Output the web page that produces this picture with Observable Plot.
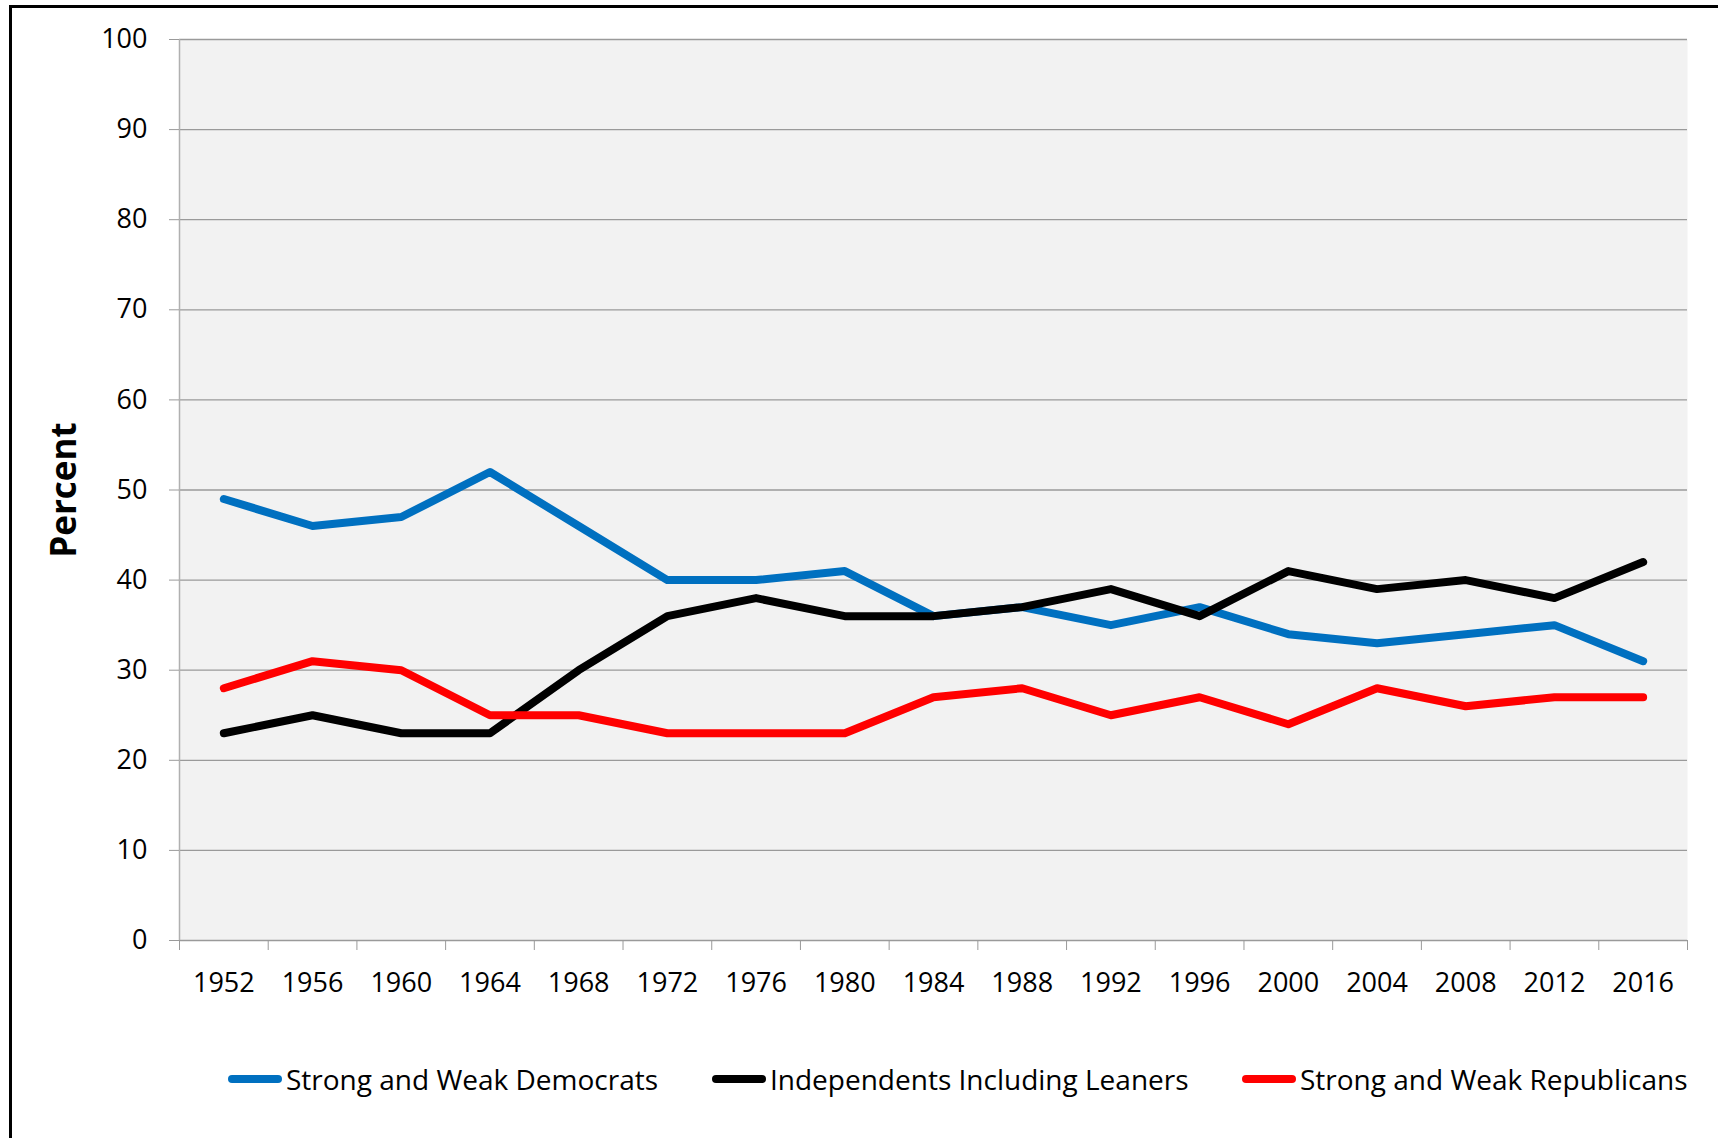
<!DOCTYPE html>
<html><head><meta charset="utf-8">
<script src="https://cdn.jsdelivr.net/npm/d3@7"></script>
<script src="https://cdn.jsdelivr.net/npm/@observablehq/plot@0.6"></script>
<style>
body{margin:0;background:#fff;font-family:"Open Sans",sans-serif;width:1718px;height:1138px;overflow:hidden;position:relative;}
#frame{position:absolute;left:9px;top:5px;width:1720px;height:1140px;border-left:3px solid #000;border-top:3px solid #000;}
#chart{position:absolute;left:0;top:0;}
#legend{position:absolute;top:1059px;left:0;width:1718px;height:40px;}
.item{position:absolute;top:0;height:40px;display:flex;align-items:center;font-size:28px;color:#000;white-space:nowrap;}
.sw{width:54px;height:8px;border-radius:4px;margin-right:4px;}
</style></head><body>
<div id="frame"></div><div id="chart"></div><div id="legend"></div>
<script>
const years = [1952,1956,1960,1964,1968,1972,1976,1980,1984,1988,1992,1996,2000,2004,2008,2012,2016];
const democrats    = [49,46,47,52,46,40,40,41,36,37,35,37,34,33,34,35,31];
const independents = [23,25,23,23,30,36,38,36,36,37,39,36,41,39,40,38,42];
const republicans  = [28,31,30,25,25,23,23,23,27,28,25,27,24,28,26,27,27];
const seriesNames  = ["Strong and Weak Democrats","Independents Including Leaners","Strong and Weak Republicans"];
const seriesColors = ["#0070C0","#000000","#FF0000"];
const yTicks = [0,10,20,30,40,50,60,70,80,90,100];
const yLabel = "Percent";

const seriesValues = [democrats, independents, republicans];
const data = [];
seriesNames.forEach((name, s) => years.forEach((yr, i) => data.push({year: yr, value: seriesValues[s][i], series: name})));
const bounds = [years[0] - 2, ...years.map(y => y + 2)];

const plot = Plot.plot({
  width: 1718, height: 1030,
  marginLeft: 179, marginRight: 31, marginTop: 39, marginBottom: 90,
  style: {fontFamily: "Open Sans", fontSize: "27px", background: "transparent", color: "#000", overflow: "visible"},
  x: {type: "linear", domain: [bounds[0], bounds[bounds.length - 1]]},
  y: {domain: [0, 100]},
  color: {domain: seriesNames, range: seriesColors},
  marks: [
    Plot.frame({fill: "#f2f2f2", stroke: null}),
    Plot.gridY(yTicks, {stroke: "#9a9a9a", strokeOpacity: 1, strokeWidth: 1.3}),
    Plot.ruleX([bounds[0]], {y1: 0, y2: 100, stroke: "#b0b0b0", strokeWidth: 1.5}),
    Plot.axisY(yTicks, {tickSize: 10, tickPadding: 22, stroke: "#9a9a9a", fontSize: 27, label: null}),
    Plot.axisX(bounds, {tickSize: 10, tickFormat: () => "", stroke: "#9a9a9a", label: null}),
    Plot.axisX(years, {tickSize: 0, tickPadding: 32, tickFormat: d => String(d), fontSize: 27, label: null}),
    Plot.line(data, {x: "year", y: "value", z: "series", stroke: "series", strokeWidth: 8, strokeLinecap: "round", strokeLinejoin: "round"}),
    Plot.text([yLabel], {frameAnchor: "left", textAnchor: "middle", lineAnchor: "middle", dx: -115, rotate: -90, text: d => d, fontWeight: "bold", fontSize: 35, fill: "#000"})
  ]
});
document.getElementById("chart").appendChild(plot);

const color = plot.scale("color");
const legend = document.getElementById("legend");
const lefts = [228, 712, 1242];
color.domain.forEach((name, i) => {
  const it = document.createElement("div");
  it.className = "item";
  it.style.left = lefts[i] + "px";
  const sw = document.createElement("div");
  sw.className = "sw";
  sw.style.background = color.range[i];
  it.appendChild(sw);
  const t = document.createElement("span");
  t.textContent = name;
  it.appendChild(t);
  legend.appendChild(it);
});
</script>
</body></html>
